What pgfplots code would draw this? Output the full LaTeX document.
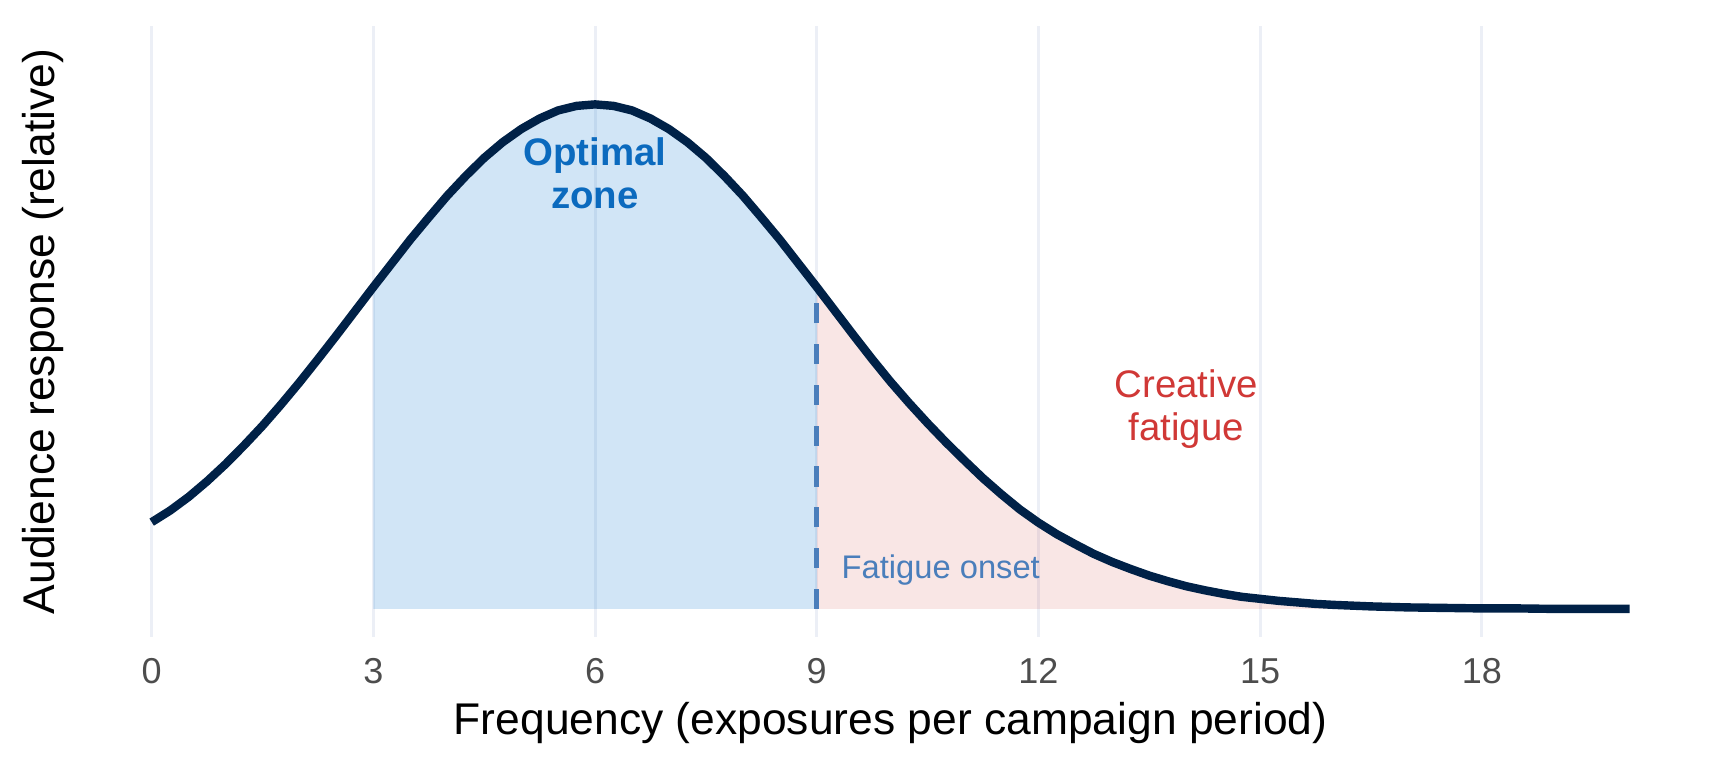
\documentclass[border=0pt]{standalone}
\usepackage{fontspec}
\setmainfont{Liberation Sans}
\usepackage{pgfplots}
\pgfplotsset{compat=1.18}
\usepackage{pgfplotstable}
\definecolor{curvec}{RGB}{0,33,71}
\definecolor{blueF}{RGB}{25,125,210}
\definecolor{redF}{RGB}{208,58,53}
\definecolor{dashc}{RGB}{74,126,187}
\definecolor{optc}{RGB}{11,106,190}
\definecolor{fatc}{RGB}{208,56,54}
\definecolor{gridc}{RGB}{236,239,246}
\definecolor{tickc}{RGB}{77,77,77}

\pgfplotstableread{
x y
0 0.172
0.25 0.195
0.5 0.222
0.75 0.253
1 0.287
1.25 0.324
1.5 0.363
1.75 0.405
2 0.449
2.25 0.495
2.5 0.542
2.75 0.590
3 0.638
3.25 0.685
3.5 0.732
3.75 0.776
4 0.819
4.25 0.858
4.5 0.894
4.75 0.925
5 0.951
5.25 0.972
5.5 0.988
5.75 0.997
6 1.000
6.25 0.997
6.5 0.988
6.75 0.972
7 0.951
7.25 0.925
7.5 0.894
7.75 0.858
8 0.819
8.25 0.776
8.5 0.732
8.75 0.685
9 0.638
9.25 0.590
9.5 0.542
9.75 0.495
10 0.450
10.25 0.408
10.5 0.368
10.75 0.330
11 0.294
11.25 0.259
11.5 0.227
11.75 0.197
12 0.171
12.25 0.148
12.5 0.128
12.75 0.109
13 0.093
13.25 0.079
13.5 0.066
13.75 0.055
14 0.045
14.25 0.037
14.5 0.030
14.75 0.024
15 0.020
15.25 0.016
15.5 0.013
15.75 0.010
16 0.008
16.5 0.005
17 0.003
17.5 0.002
18 0.001
18.5 0.001
19 0.000
19.5 0.000
20 0.000
}\curve

\pgfplotstableread{
x y
3 0
3 0.638
3.25 0.685
3.5 0.732
3.75 0.776
4 0.819
4.25 0.858
4.5 0.894
4.75 0.925
5 0.951
5.25 0.972
5.5 0.988
5.75 0.997
6 1.000
6.25 0.997
6.5 0.988
6.75 0.972
7 0.951
7.25 0.925
7.5 0.894
7.75 0.858
8 0.819
8.25 0.776
8.5 0.732
8.75 0.685
9 0.638
9 0
}\bluearea

\pgfplotstableread{
x y
9 0
9 0.638
9.25 0.590
9.5 0.542
9.75 0.495
10 0.450
10.25 0.408
10.5 0.368
10.75 0.330
11 0.294
11.25 0.259
11.5 0.227
11.75 0.197
12 0.171
12.25 0.148
12.5 0.128
12.75 0.109
13 0.093
13.25 0.079
13.5 0.066
13.75 0.055
14 0.045
14.25 0.037
14.5 0.030
14.75 0.024
15 0.020
15.25 0.016
15.5 0.013
15.75 0.010
16 0.008
16.5 0.005
17 0.003
17.5 0.002
18 0.001
18.5 0.001
19 0.000
19.5 0.000
20 0.000
20 0
}\pinkarea

\begin{document}
\begin{tikzpicture}
\path[use as bounding box] (0,0) rectangle (576pt,256pt);
\begin{axis}[
  at={(25.93pt,43.77pt)}, anchor=south west,
  scale only axis, width=541.9pt, height=203.5pt,
  xmin=-1, xmax=21, ymin=-0.055, ymax=1.155,
  xtick={0,3,...,18}, ytick=\empty,
  xmajorgrids, grid style={gridc, line width=1pt},
  axis line style={draw=none}, major tick length=0pt,
  tick style={draw=none},
  xticklabel style={anchor=base, yshift=-15.53pt, text=tickc, font=\fontsize{12}{14}\selectfont},
  /pgf/number format/assume math mode=true,
  xlabel={Frequency (exposures per campaign period)},
  ylabel={Audience response (relative)},
  every axis x label/.style={at={(axis description cs:0.5,0)}, anchor=base, yshift=-32.77pt, font=\fontsize{14.8}{17}\selectfont},
  every axis y label/.style={at={(axis description cs:-0.01402,0.5)}, rotate=90, anchor=base, font=\fontsize{14.8}{17}\selectfont},
  clip=false,
]
\addplot[draw=none, fill=blueF, fill opacity=0.2] table {\bluearea};
\addplot[draw=none, fill=redF, fill opacity=0.13] table {\pinkarea};
\addplot[curvec, line width=2.8pt, line join=round] table {\curve};
\addplot[dashc, line width=1.67pt, dash pattern=on 6.7pt off 6.9pt] coordinates {(9,0) (9,0.6075)};
\node[anchor=base, text=optc, font=\fontsize{12.8}{14}\selectfont\bfseries] at (axis cs:6,0.8791) {Optimal};
\node[anchor=base, text=optc, font=\fontsize{12.8}{14}\selectfont\bfseries] at (axis cs:6,0.7933) {zone};
\node[anchor=base, text=fatc, font=\fontsize{12.8}{14}\selectfont] at (axis cs:14,0.4186) {Creative};
\node[anchor=base, text=fatc, font=\fontsize{12.8}{14}\selectfont] at (axis cs:14,0.334) {fatigue};
\node[anchor=base west, inner sep=0pt, text=dashc, font=\fontsize{10.9}{12}\selectfont] at (axis cs:9.33,0.0595) {Fatigue onset};
\end{axis}
\end{tikzpicture}
\end{document}
